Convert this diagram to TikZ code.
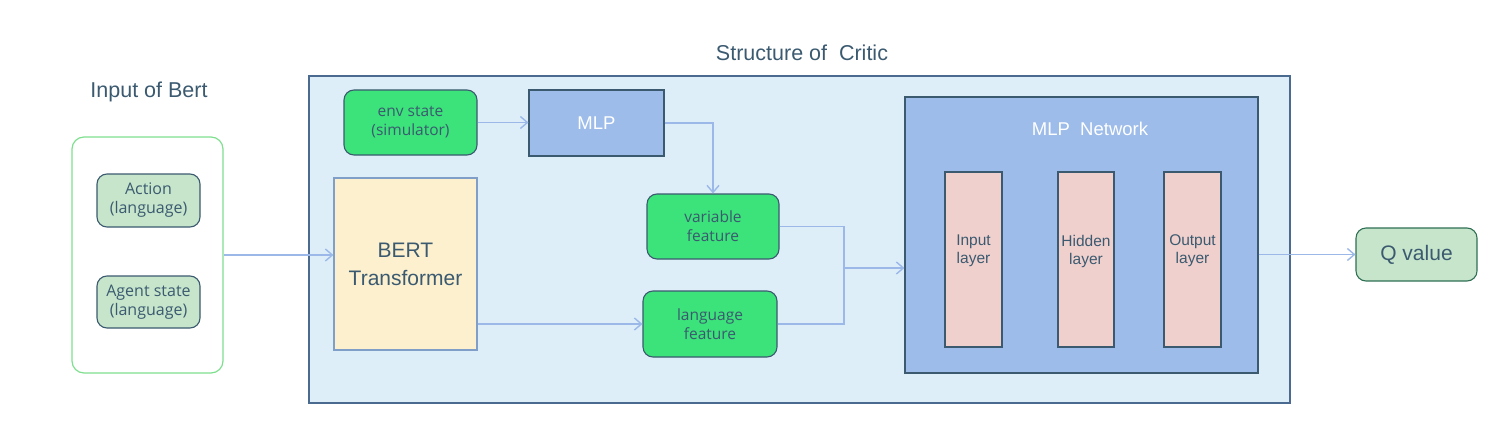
\documentclass[tikz,border=0pt]{standalone}
\usepackage{fontspec}
\setmainfont{Liberation Sans}
\newfontfamily\seg{Open Sans}
\usetikzlibrary{arrows.meta}
\definecolor{txt}{HTML}{3B5A70}
\definecolor{arr}{HTML}{9BB8E8}
\definecolor{critfill}{HTML}{DDEEF9}
\definecolor{critdraw}{HTML}{4B6A8F}
\definecolor{netfill}{HTML}{9DBCEA}
\definecolor{grn}{HTML}{3CE27A}
\definecolor{pale}{HTML}{C6E5CB}
\definecolor{bertfill}{HTML}{FCF0CF}
\definecolor{bertdraw}{HTML}{7F9FC9}
\definecolor{layfill}{HTML}{F0D0CD}
\definecolor{ltgrn}{HTML}{7EE08F}
\definecolor{qdraw}{HTML}{2F7055}
\tikzset{
  boxbase/.style={draw=txt, line width=1.1pt, text=txt, align=center, inner sep=0pt},
  grnbox/.style={boxbase, fill=grn, rounded corners=10pt, font=\seg\fontsize{15.5}{19}\selectfont},
  palebox/.style={boxbase, fill=pale, rounded corners=10pt, font=\seg\fontsize{16}{19}\selectfont, minimum width=103pt},
  laybox/.style={boxbase, fill=layfill, minimum width=57pt, minimum height=175pt},
  laytext/.style={text=txt, align=center, inner sep=0pt, font=\fontsize{15.5}{18}\selectfont},
  titletext/.style={text=txt, font=\fontsize{21.5}{24}\selectfont, inner sep=0pt},
  conn/.style={draw=arr, line width=1.4pt, -{Straight Barb[length=7pt,width=12pt,line width=1.4pt]}},
  line/.style={draw=arr, line width=1.4pt}
}
\begin{document}
\begin{tikzpicture}[x=1pt,y=-1pt]
\useasboundingbox (0,0) rectangle (1495,441);
% titles
\node[titletext] (crittitle) at (802,53) {Structure of \ Critic};
\node[titletext] (intitle) at (149,92) {Input of Bert};
% left input box
\node[draw=ltgrn, fill=white, line width=1.2pt, rounded corners=12pt, minimum width=151pt, minimum height=236pt] (inbox) at (147.5,255) {};
\node[palebox, minimum height=53pt] (action) at (148.5,200.5) {Action\\(language)};
\node[palebox, minimum height=52pt] (agent) at (148.5,302) {Agent state\\(language)};
% critic
\node[draw=critdraw, fill=critfill, line width=1.3pt, minimum width=981pt, minimum height=327pt] (critic) at (799.5,239.5) {};
\node[grnbox, minimum width=133pt, minimum height=65pt] (env) at (410.5,122.5) {env state\\(simulator)};
\node[boxbase, fill=netfill, minimum width=135pt, minimum height=66pt, text=white, font=\fontsize{18.5}{22}\selectfont] (mlp) at (596.5,123) {MLP};
\node[boxbase, draw=bertdraw, fill=bertfill, minimum width=143pt, minimum height=172pt, font=\fontsize{21}{28}\selectfont] (bert) at (405.5,264) {BERT\\Transformer};
\node[grnbox, minimum width=132pt, minimum height=65pt] (var) at (713,226.5) {variable\\feature};
\node[grnbox, minimum width=134pt, minimum height=66pt] (lang) at (710,324) {language\\feature};
% MLP network
\node[boxbase, fill=netfill, minimum width=353pt, minimum height=276pt] (net) at (1081.5,235) {};
\node[text=white, font=\fontsize{18.5}{22}\selectfont, inner sep=0pt] (nettitle) at (1090,129) {MLP \ Network};
\node[laybox] (inl) at (973.5,259.5) {};
\node[laybox, minimum width=56pt] (hid) at (1086,259.5) {};
\node[laybox] (outl) at (1192.5,259.5) {};
\node[laytext] (inltext) at (973.5,251) {Input\\layer};
\node[laytext] (hidtext) at (1086,251) {Hidden\\layer};
\node[laytext] (outltext) at (1192.5,251) {Output\\layer};
% Q value
\node[boxbase, draw=qdraw, fill=pale, rounded corners=10pt, minimum width=121pt, minimum height=53pt, font=\fontsize{21}{24}\selectfont] (q) at (1416.5,254.5) {Q value};
% connectors
\draw[conn] (inbox.east) -- (inbox.east -| bert.west);
\draw[conn] (env.east) -- (env.east -| mlp.west);
\draw[conn] (mlp.east) -| (var.north);
\draw[conn] (lang.west -| bert.east) -- (lang.west);
\coordinate (j) at (844,268);
\draw[line] (var.east) -| (j);
\draw[line] (lang.east) -| (j);
\draw[conn] (j) -- (j -| net.west);
\draw[conn] (q.west -| net.east) -- (q.west);
\end{tikzpicture}
\end{document}
